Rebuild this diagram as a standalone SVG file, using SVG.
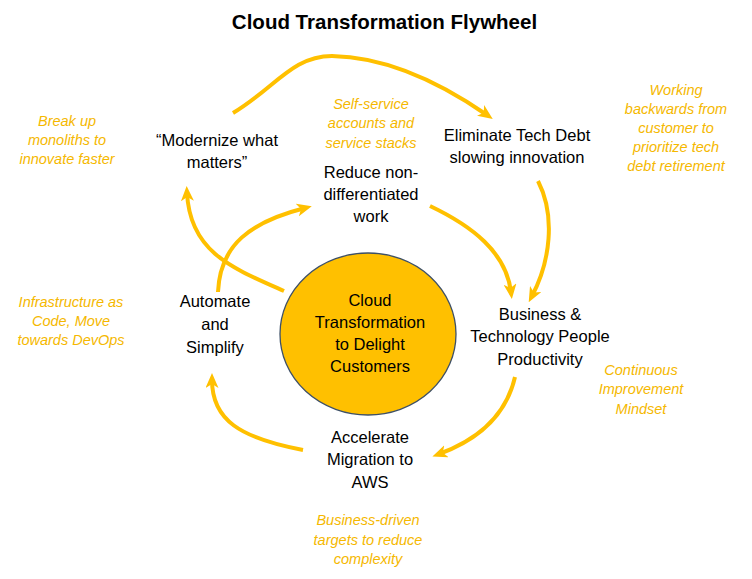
<svg xmlns="http://www.w3.org/2000/svg" width="752" height="579" viewBox="0 0 752 579">
<defs>
<marker id="ah" markerUnits="userSpaceOnUse" markerWidth="15" markerHeight="13" viewBox="0 0 15 13" refX="8" refY="6.5" orient="auto">
<path d="M0,0 L15,6.5 L0,13 L4,6.5 z" fill="#FFC000"/>
</marker>
</defs>
<style>
.lbl{font-family:"Liberation Sans",Arial,sans-serif;font-size:16.5px;fill:#000;text-anchor:middle}
.note{font-family:"Liberation Sans",Arial,sans-serif;font-size:14.5px;font-style:italic;fill:#F5B800;text-anchor:middle}
.title{font-family:"Liberation Sans",Arial,sans-serif;font-size:20.5px;font-weight:bold;fill:#000;text-anchor:middle}
.arr{fill:none;stroke:#FFC000;stroke-width:4;stroke-linecap:butt;marker-end:url(#ah)}
</style>
<rect width="752" height="579" fill="#fff"/>
<text class="title" x="384.5" y="29">Cloud Transformation Flywheel</text>

<g id="connectors">
<path class="arr" d="M233,113 C275,88 292,56 332,56 C392,57 448,88 487,115"/>
<path class="arr" d="M284,291 C232,268 190,252 187,193"/>
<path class="arr" d="M218,292 C220,245 250,222 305,208"/>
<path class="arr" d="M430,206 C472,226 506,252 511,292"/>
<path class="arr" d="M538,181 C556,216 550,262 532,296"/>
<path class="arr" d="M515,377 C505,420 472,442 439,454"/>
<path class="arr" d="M303,450 C240,438 212,420 212,380"/>
</g>

<g id="center">
<ellipse cx="368" cy="334" rx="88" ry="81" fill="#FFC000" stroke="#3E5066" stroke-width="1.3"/>
<text class="lbl" x="370" y="306">Cloud</text>
<text class="lbl" x="370" y="328">Transformation</text>
<text class="lbl" x="370" y="350">to Delight</text>
<text class="lbl" x="370" y="372">Customers</text>
</g>

<g id="modernize">
<text class="lbl" x="217" y="146">“Modernize what</text>
<text class="lbl" x="217" y="168">matters”</text>
</g>
<g id="eliminate">
<text class="lbl" x="517" y="141">Eliminate Tech Debt</text>
<text class="lbl" x="517" y="163">slowing innovation</text>
</g>
<g id="reduce">
<text class="lbl" x="371" y="178">Reduce non-</text>
<text class="lbl" x="371" y="200">differentiated</text>
<text class="lbl" x="371" y="222">work</text>
</g>
<g id="business">
<text class="lbl" x="540" y="320">Business &amp;</text>
<text class="lbl" x="540" y="342">Technology People</text>
<text class="lbl" x="540" y="365">Productivity</text>
</g>
<g id="automate">
<text class="lbl" x="215" y="307">Automate</text>
<text class="lbl" x="215" y="330">and</text>
<text class="lbl" x="215" y="353">Simplify</text>
</g>
<g id="accelerate">
<text class="lbl" x="370" y="443">Accelerate</text>
<text class="lbl" x="370" y="465">Migration to</text>
<text class="lbl" x="370" y="488">AWS</text>
</g>

<g id="note-breakup">
<text class="note" x="67" y="126">Break up</text>
<text class="note" x="67" y="145">monoliths to</text>
<text class="note" x="67" y="164">innovate faster</text>
</g>
<g id="note-selfservice">
<text class="note" x="371" y="109">Self-service</text>
<text class="note" x="371" y="128">accounts and</text>
<text class="note" x="371" y="148">service stacks</text>
</g>
<g id="note-working">
<text class="note" x="676" y="95">Working</text>
<text class="note" x="676" y="114">backwards from</text>
<text class="note" x="676" y="133">customer to</text>
<text class="note" x="676" y="152">prioritize tech</text>
<text class="note" x="676" y="171">debt retirement</text>
</g>
<g id="note-iac">
<text class="note" x="71" y="307">Infrastructure as</text>
<text class="note" x="71" y="326">Code, Move</text>
<text class="note" x="71" y="345">towards DevOps</text>
</g>
<g id="note-continuous">
<text class="note" x="641" y="375">Continuous</text>
<text class="note" x="641" y="394">Improvement</text>
<text class="note" x="641" y="414">Mindset</text>
</g>
<g id="note-business">
<text class="note" x="368" y="525">Business-driven</text>
<text class="note" x="368" y="545">targets to reduce</text>
<text class="note" x="368" y="564">complexity</text>
</g>
</svg>
